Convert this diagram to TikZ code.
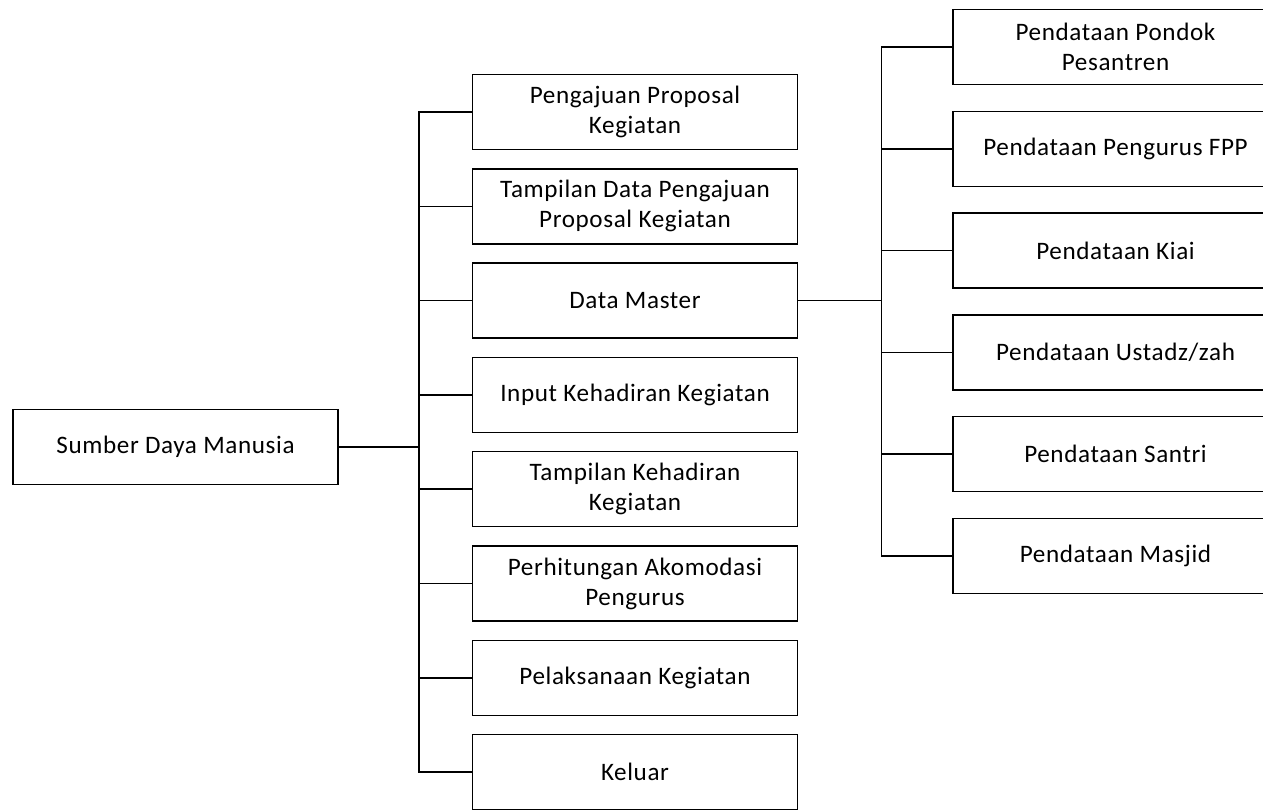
\documentclass[tikz,border=0pt]{standalone}
\usepackage{fontspec}
\setmainfont{Carlito}[LetterSpace=2.5]
\usepackage{tikz}

\begin{document}
\begin{tikzpicture}[x=0.02cm,y=-0.02cm,
	menu/.style={draw, line width=0.85pt, minimum width=6.5cm, minimum height=1.5cm, inner sep=2pt, align=center, font=\fontsize{14.3}{17}\selectfont},
	garis/.style={line width=0.85pt}]
	
	\clip (0,0) rectangle (1263,810);
	
	% akar
	\node[menu] (sdm) at (175.5,447) {Sumber Daya Manusia};
	
	% menu utama
	\node[menu] (m1) at (635,112) {Pengajuan Proposal\\Kegiatan};
	\node[menu] (m2) at (635,206.3) {Tampilan Data Pengajuan\\Proposal Kegiatan};
	\node[menu] (m3) at (635,300.6) {Data Master};
	\node[menu] (m4) at (635,394.9) {Input Kehadiran Kegiatan};
	\node[menu] (m5) at (635,489.2) {Tampilan Kehadiran\\Kegiatan};
	\node[menu] (m6) at (635,583.5) {Perhitungan Akomodasi\\Pengurus};
	\node[menu] (m7) at (635,677.8) {Pelaksanaan Kegiatan};
	\node[menu] (m8) at (635,772.1) {Keluar};
	
	% sub menu data master
	\node[menu] (d1) at (1115.5,47) {Pendataan Pondok\\Pesantren};
	\node[menu] (d2) at (1115.5,148.8) {Pendataan Pengurus FPP};
	\node[menu] (d3) at (1115.5,250.6) {Pendataan Kiai};
	\node[menu] (d4) at (1115.5,352.4) {Pendataan Ustadz/zah};
	\node[menu] (d5) at (1115.5,454.2) {Pendataan Santri};
	\node[menu] (d6) at (1115.5,556) {Pendataan Masjid};
	
	\coordinate (tk) at (419,447);
	\coordinate (tm) at (881.5,300.6);
	
	\draw[line width=1.2pt] (sdm.east)--(tk);
	\draw[garis] (m1.west)-|(tk);
	\draw[garis] (m2.west)-|(tk);
	\draw[garis] (m3.west)-|(tk);
	\draw[garis] (m4.west)-|(tk);
	\draw[garis] (m5.west)-|(tk);
	\draw[garis] (m6.west)-|(tk);
	\draw[garis] (m7.west)-|(tk);
	\draw[garis] (m8.west)-|(tk);
	
	\draw[garis] (m3.east)--(tm);
	\draw[garis] (d1.west)-|(tm);
	\draw[garis] (d2.west)-|(tm);
	\draw[garis] (d3.west)-|(tm);
	\draw[garis] (d4.west)-|(tm);
	\draw[garis] (d5.west)-|(tm);
	\draw[garis] (d6.west)-|(tm);
	
\end{tikzpicture}
\end{document}
